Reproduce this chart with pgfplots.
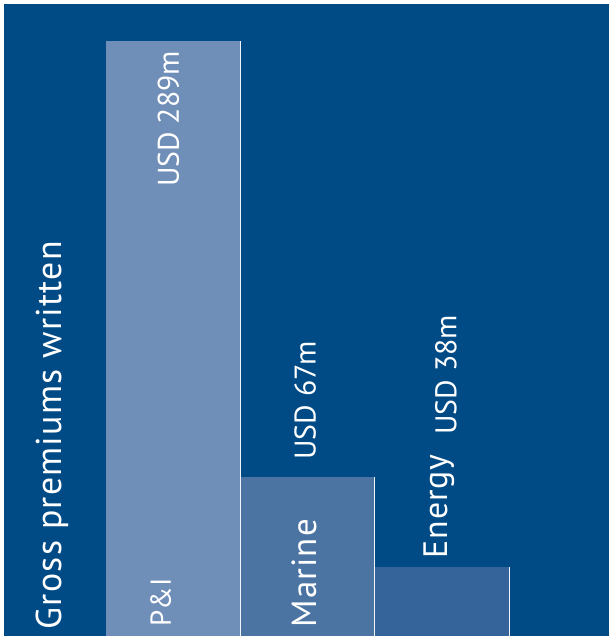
\documentclass[border=0pt]{standalone}
\usepackage{pgfplots}
\pgfplotsset{compat=1.18}
\usepackage{fontspec}
\setmainfont{PT Sans}
\definecolor{bgblue}{RGB}{0,75,133}
\definecolor{pibar}{RGB}{111,142,184}
\definecolor{marbar}{RGB}{76,116,163}
\definecolor{enbar}{RGB}{52,100,153}
\tikzset{lbl/.style={text=white, inner sep=0pt, rotate=90}}
\begin{document}
\begin{tikzpicture}
\path[fill=white] (0,0) rectangle (609bp,636bp);
\begin{axis}[
  at={(4bp,0bp)}, anchor=south west,
  width=605bp, height=632bp, scale only axis,
  xmin=-1.260, xmax=3.238, ymin=0, ymax=307.0,
  axis line style={draw=none}, xtick=\empty, ytick=\empty,
  axis background/.style={fill=bgblue},
  clip=false,
]
\addplot[ybar, bar width=1, bar shift=0pt, fill=pibar, draw=none] coordinates {(0,289)};
\addplot[ybar, bar width=1, bar shift=0pt, fill=marbar, draw=none] coordinates {(1,77.2)};
\addplot[ybar, bar width=1, bar shift=0pt, fill=enbar, draw=none] coordinates {(2,33.5)};
\addplot[ycomb, draw=white!90!pibar, line width=1bp, no marks] coordinates {(0.5,289) (1.5,77.2) (2.5,33.5)};
\node[lbl, anchor=base] at (axis cs:0.041,251.1) {\fontsize{30}{36}\selectfont USD 289m};
\node[lbl, anchor=base] at (axis cs:1.059,114.2) {\fontsize{30}{36}\selectfont USD 67m};
\node[lbl, anchor=base] at (axis cs:2.106,126.8) {\fontsize{30}{36}\selectfont USD 38m};
\node[lbl, anchor=base west] at (axis cs:-0.019,4.4) {\fontsize{29}{36}\selectfont P\&I};
\node[lbl, anchor=base west] at (axis cs:1.065,3.9) {\fontsize{35}{40}\selectfont\addfontfeature{LetterSpace=3}Marine};
\node[lbl, anchor=base west] at (axis cs:2.043,37.25) {\fontsize{34}{40}\selectfont\addfontfeature{LetterSpace=3}Energy};
\node[lbl, anchor=base west] at (axis cs:-0.831,2.91) {\fontsize{36}{42}\selectfont\addfontfeature{LetterSpace=3.5}Gross premiums written};
\end{axis}
\end{tikzpicture}
\end{document}
